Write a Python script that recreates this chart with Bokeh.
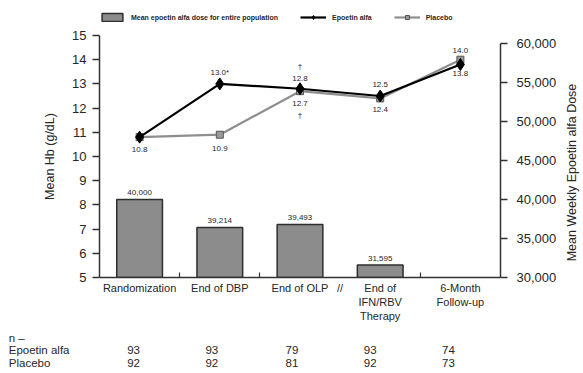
import math
from bokeh.plotting import figure
from bokeh.layouts import column, row
from bokeh.models import (Range1d, LinearAxis, FixedTicker, NumeralTickFormatter,
                          Label, Legend, LegendItem, ColumnDataSource)
from bokeh.core.properties import value
from bokeh.embed import file_html
from bokeh.resources import INLINE

# ---------------- data ----------------
categories = ["Randomization", "End of DBP", "End of OLP",
              "End of\nIFN/RBV\nTherapy", "6-Month\nFollow-up"]
epoetin_hb = [10.8, 13.0, 12.8, 12.5, 13.8]
placebo_hb = [10.8, 10.9, 12.7, 12.4, 14.0]
epoetin_labels = ["10.8", "13.0*", "12.8", "12.5", "13.8"]
placebo_labels = ["", "10.9", "12.7", "12.4", "14.0"]
epoetin_dagger = ["", "", "\u2020", "", ""]
placebo_dagger = ["", "", "\u2020", "", ""]
dose_values = [40000, 36400, 36800, 31595]          # bar heights as drawn
dose_labels = ["40,000", "39,214", "39,493", "31,595"]
n_rows = ["n \u2013", "Epoetin alfa", "Placebo"]
n_epoetin = [93, 93, 79, 93, 74]
n_placebo = [92, 92, 81, 92, 73]
hb_ticks = list(range(5, 16))
dose_ticks = [30000, 35000, 40000, 45000, 50000, 55000, 60000]
right_title = "Mean Weekly Epoetin alfa Dose"

# ---------------- styles / geometry ----------------
FONT = "Liberation Sans"
TXT = "#262626"
AX = "#333333"
W_TOTAL, H_TOTAL = 583, 373
W_R = 20                # strip holding the right-hand axis title
W = W_TOTAL - W_R
FRAME_L, FRAME_R = 99, 500
PX_X = (FRAME_R - FRAME_L) / 5.0
H0 = 27                 # legend strip
H1 = 298                # main chart
H2 = H_TOTAL - H0 - H1  # n table
TOP1 = 8                # fig1 border above frame
FRAME_H = 244
# label pixel offsets (positive = up)
ep_off = [-12, 11, 10, 12, -9]
pl_off = [0, -14, -12, -11, 9]
ep_dag_off = [0, 0, 22, 0, 0]
pl_dag_off = [0, 0, -24, 0, 0]
# table number horizontal nudges (px) and row-name padding
n_xoff = [-6, -8, -8, -10, -12]
row_pad = [14, 0, 6]

xs = list(range(len(categories)))
x_range = Range1d(-0.5, 4.5)

def bare(fig):
    fig.xgrid.visible = False
    fig.ygrid.visible = False
    fig.outline_line_color = None

# ================= main chart =================
p = figure(width=W, height=H1, x_range=x_range, y_range=Range1d(5, 15),
           output_backend="svg", toolbar_location=None, tools="")
p.min_border_left = FRAME_L
p.min_border_right = W - FRAME_R
p.min_border_top = TOP1
p.min_border_bottom = H1 - TOP1 - FRAME_H
bare(p)

dose_top = 30000 + 30000 * FRAME_H / (FRAME_H - 8)   # 60,000 sits 8px below the Hb 15 line
p.extra_y_ranges = {"dose": Range1d(30000, dose_top)}

# left axis
ya = p.yaxis[0]
ya.ticker = FixedTicker(ticks=hb_ticks)
ya.major_tick_out = 7
ya.major_tick_in = 0
ya.minor_tick_out = 0
ya.minor_tick_in = 0
ya.axis_line_width = 1.5
ya.axis_line_color = AX
ya.major_tick_line_color = AX
ya.major_tick_line_width = 1.5
ya.major_label_text_font = FONT
ya.major_label_text_font_size = "13px"
ya.major_label_text_color = TXT
ya.major_label_standoff = 6
ya.axis_label = "Mean Hb (g/dL)"
ya.axis_label_text_font = FONT
ya.axis_label_text_font_size = "12.5px"
ya.axis_label_text_font_style = "normal"
ya.axis_label_text_color = TXT
ya.axis_label_standoff = 12

# bottom axis
xa = p.xaxis[0]
xa.ticker = FixedTicker(ticks=xs + [2.5], minor_ticks=[0.5, 1.5, 3.5])
overrides = {i: c for i, c in enumerate(categories)}
overrides[2.5] = "//"
xa.major_label_overrides = overrides
xa.major_tick_out = 0
xa.major_tick_in = 0
xa.minor_tick_in = 5
xa.minor_tick_out = 0
xa.minor_tick_line_color = AX
xa.minor_tick_line_width = 1.2
xa.axis_line_width = 1.5
xa.axis_line_color = AX
xa.major_label_text_font = FONT
xa.major_label_text_font_size = "11px"
xa.major_label_text_color = TXT
xa.major_label_standoff = 4

# right axis
ra = LinearAxis(y_range_name="dose", ticker=FixedTicker(ticks=dose_ticks),
                formatter=NumeralTickFormatter(format="0,0"), bounds=(30000, 60000))
ra.major_tick_out = 7
ra.major_tick_in = 0
ra.minor_tick_out = 0
ra.minor_tick_in = 0
ra.axis_line_width = 1.5
ra.axis_line_color = AX
ra.major_tick_line_color = AX
ra.major_tick_line_width = 1.5
ra.major_label_text_font = FONT
ra.major_label_text_font_size = "13px"
ra.major_label_text_color = TXT
ra.major_label_standoff = 9
p.add_layout(ra, "right")

BAR_STYLE = dict(fill_color="#8c8c8c", line_color="#2e2e2e", line_width=1.5)
PL_LINE = dict(line_color="#8e8e8e", line_width=2.2)
PL_PT = dict(marker="square", size=7, fill_color="#9a9a9a", line_color="#555555", line_width=1)
EP_LINE = dict(line_color="black", line_width=2.2)
EP_PT = dict(marker="diamond", size=12, fill_color="black", line_color="black")

# bars
p.vbar(x=xs[:len(dose_values)], top=dose_values, bottom=30000, width=0.57,
       y_range_name="dose", **BAR_STYLE)
for i, (v, t) in enumerate(zip(dose_values, dose_labels)):
    p.add_layout(Label(x=xs[i], y=v, y_range_name="dose", text=t, y_offset=7,
                       text_font=FONT, text_font_size="8px", text_color=TXT,
                       text_align="center", text_baseline="middle"))

# lines
p.line(xs, placebo_hb, **PL_LINE)
p.scatter(xs, placebo_hb, **PL_PT)
p.line(xs, epoetin_hb, **EP_LINE)
p.scatter(xs, epoetin_hb, **EP_PT)

def add_lbl(x, y, t, off, size="8px"):
    if t:
        p.add_layout(Label(x=x, y=y, text=t, y_offset=off, text_font=FONT,
                           text_font_size=size, text_color=TXT,
                           text_align="center", text_baseline="middle"))

for i in xs:
    add_lbl(xs[i], epoetin_hb[i], epoetin_labels[i], ep_off[i])
    add_lbl(xs[i], placebo_hb[i], placebo_labels[i], pl_off[i])
    add_lbl(xs[i], epoetin_hb[i], epoetin_dagger[i], ep_dag_off[i])
    add_lbl(xs[i], placebo_hb[i], placebo_dagger[i], pl_dag_off[i])

# ================= legend strip =================
lg = figure(width=W, height=H0, x_range=x_range, y_range=Range1d(0, 1),
            output_backend="svg", toolbar_location=None, tools="",
            x_axis_location=None, y_axis_location=None)
lg.min_border_left = FRAME_L
lg.min_border_right = W - FRAME_R
lg.min_border_top = 0
lg.min_border_bottom = 0
bare(lg)
# key glyphs: one hidden sample each (far outside the strip's ranges) so the legend can draw them
key = ColumnDataSource(dict(x=[-100], y=[-100], top=[-100], bottom=[-101]))
k_bar = lg.vbar(x="x", top="top", bottom="bottom", width=0.5, source=key, **BAR_STYLE)
k_epl = lg.line(x="x", y="y", source=key, **EP_LINE)
k_ept = lg.scatter(x="x", y="y", source=key, **EP_PT)
k_pll = lg.line(x="x", y="y", source=key, **PL_LINE)
k_plt = lg.scatter(x="x", y="y", source=key, **PL_PT)
legend = Legend(items=[
    LegendItem(label="Mean epoetin alfa dose for entire population", renderers=[k_bar]),
    LegendItem(label="Epoetin alfa", renderers=[k_epl, k_ept]),
    LegendItem(label="Placebo", renderers=[k_pll, k_plt]),
], orientation="horizontal", location=(0, 5))
legend.padding = 0
legend.margin = 0
legend.spacing = 22
legend.glyph_width = 26
legend.glyph_height = 10
legend.label_height = 10
legend.label_standoff = 6
legend.label_text_font = FONT
legend.label_text_font_size = "7px"
legend.label_text_font_style = "bold"
legend.label_text_color = TXT
legend.border_line_color = None
legend.background_fill_alpha = 0
lg.add_layout(legend)

# ================= n table =================
px_row = 12.5
row_y = [2, 1, 0]
t = figure(width=W, height=H2, x_range=x_range,
           y_range=Range1d(-11 / px_row, (H2 - 11) / px_row),
           output_backend="svg", toolbar_location=None, tools="",
           x_axis_location=None, y_axis_location="left")
t.min_border_left = FRAME_L
t.min_border_right = W - FRAME_R
t.min_border_top = 0
t.min_border_bottom = 0
bare(t)
ta = t.yaxis[0]
ta.ticker = FixedTicker(ticks=row_y)
ta.major_label_overrides = {y: name + "\u00a0" * pad for y, name, pad in zip(row_y, n_rows, row_pad)}
ta.axis_line_color = None
ta.major_tick_line_color = None
ta.minor_tick_line_color = None
ta.major_label_text_font = FONT
ta.major_label_text_font_size = "11.5px"
ta.major_label_text_color = TXT
ta.major_label_standoff = 24

nx = [x + o / PX_X for x, o in zip(xs, n_xoff)]
num_src = ColumnDataSource(dict(
    x=nx + nx,
    y=[row_y[1]] * len(xs) + [row_y[2]] * len(xs),
    text=[str(v) for v in n_epoetin] + [str(v) for v in n_placebo],
))
t.text(x="x", y="y", text="text", source=num_src, text_font=value(FONT),
       text_font_size="11.5px", text_color=TXT, text_align="center", text_baseline="middle")

# ================= right-hand axis title strip =================
r = figure(width=W_R, height=H_TOTAL, x_range=Range1d(0, W_R), y_range=Range1d(H_TOTAL, 0),
           output_backend="svg", toolbar_location=None, tools="",
           x_axis_location=None, y_axis_location=None)
r.min_border = 0
bare(r)
r.text(x=[8], y=[172], text=[right_title], angle=math.pi / 2, text_font=value(FONT),
       text_font_size="12.5px", text_color=TXT, text_align="center", text_baseline="middle")

layout = row(column(lg, p, t, spacing=0), r, spacing=0)
open("out.html", "w").write(file_html(layout, INLINE))
